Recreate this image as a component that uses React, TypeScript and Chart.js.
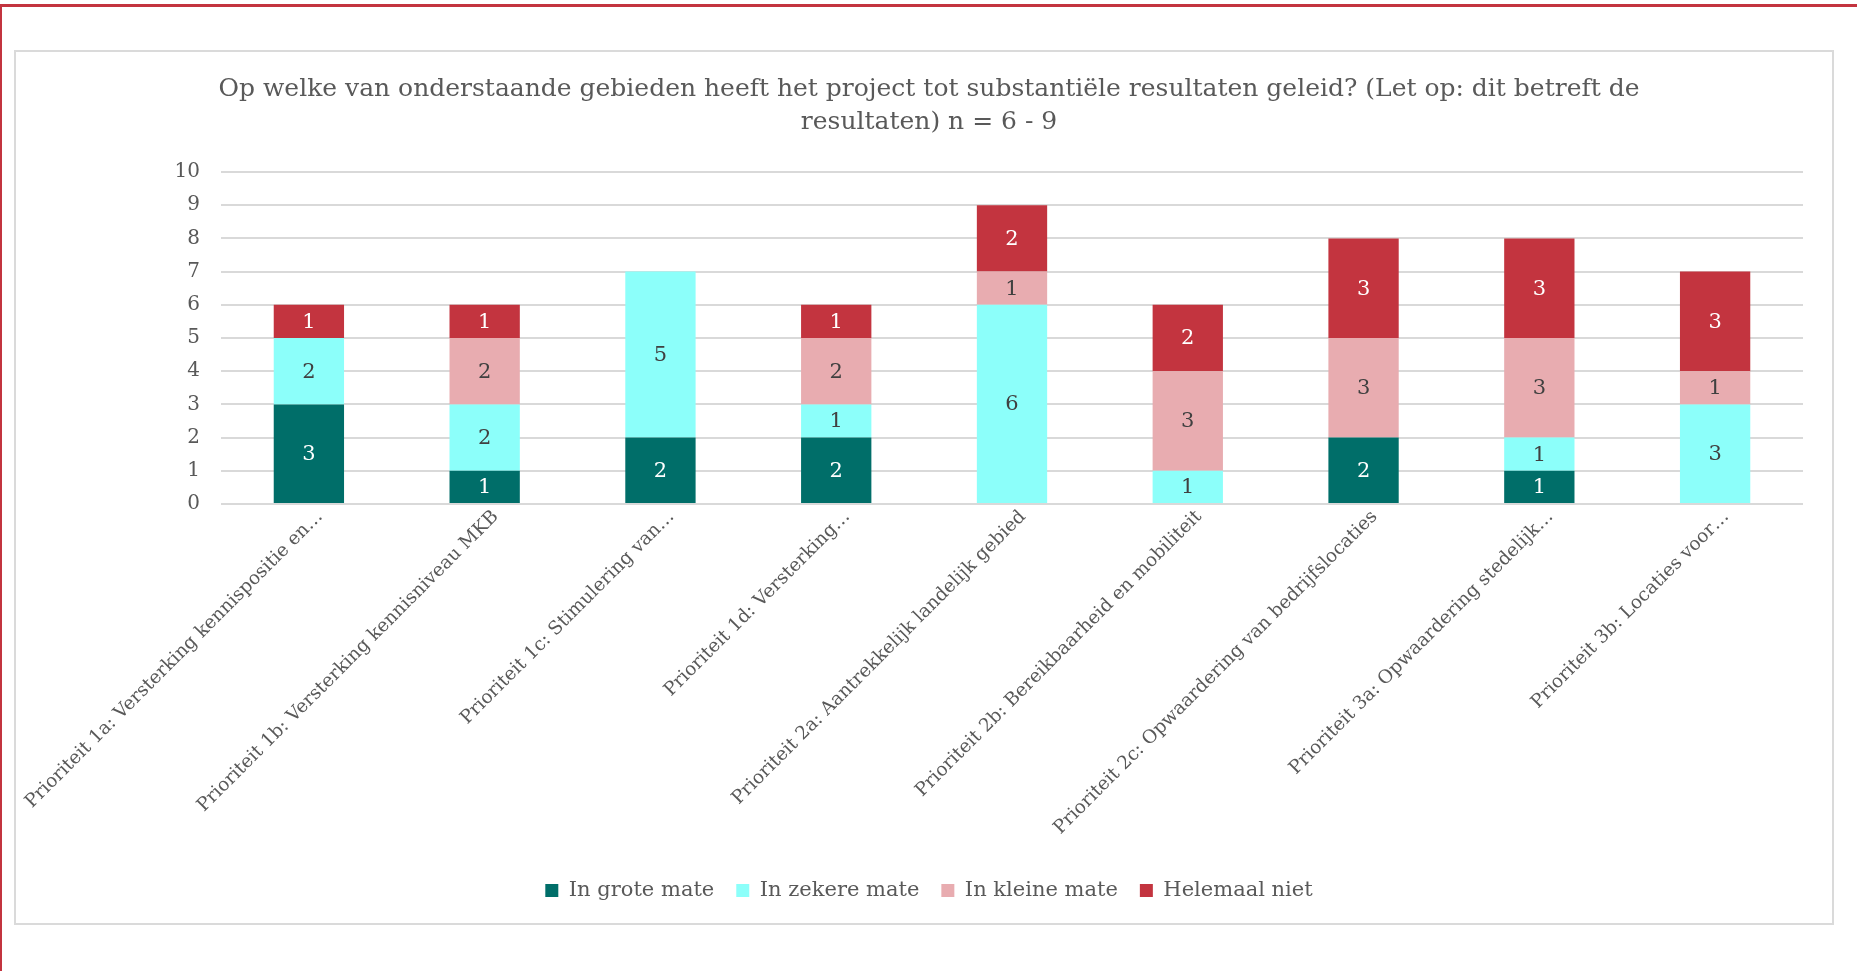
import React, { useEffect, useRef } from "react";
import { Chart, registerables } from "chart.js";

Chart.register(...registerables);

const categories: string[] = [
  "Prioriteit 1a: Versterking kennispositie en…",
  "Prioriteit 1b: Versterking kennisniveau MKB",
  "Prioriteit 1c: Stimulering van…",
  "Prioriteit 1d: Versterking…",
  "Prioriteit 2a: Aantrekkelijk landelijk gebied",
  "Prioriteit 2b: Bereikbaarheid en mobiliteit",
  "Prioriteit 2c: Opwaardering van bedrijfslocaties",
  "Prioriteit 3a: Opwaardering stedelijk…",
  "Prioriteit 3b: Locaties voor…",
];

const inGroteMate: number[] = [3, 1, 2, 2, 0, 0, 2, 1, 0];
const inZekereMate: number[] = [2, 2, 5, 1, 6, 1, 0, 1, 3];
const inKleineMate: number[] = [0, 2, 0, 2, 1, 3, 3, 3, 1];
const helemaalNiet: number[] = [1, 1, 0, 1, 2, 2, 3, 3, 3];

const seriesNames: string[] = ["In grote mate", "In zekere mate", "In kleine mate", "Helemaal niet"];
const titleLines: string[] = [
  "Op welke van onderstaande gebieden heeft het project tot substantiële resultaten geleid? (Let op: dit betreft de",
  "resultaten) n = 6 - 9",
];
const yTicks: number[] = [0, 1, 2, 3, 4, 5, 6, 7, 8, 9, 10];

const FONT = "'DejaVu Serif', 'Liberation Serif', serif";
const TEXT = "#595959";
const colors = ["#006E69", "#8CFFFA", "#E8ACB0", "#C3343F"];
const labelColors = ["#FFFFFF", "#404040", "#404040", "#FFFFFF"];

const valueLabels = {
  id: "valueLabels",
  afterDatasetsDraw(chart: any) {
    const ctx = chart.ctx;
    ctx.save();
    ctx.font = `21px ${FONT}`;
    ctx.textAlign = "center";
    ctx.textBaseline = "middle";
    chart.data.datasets.forEach((ds: any, i: number) => {
      const meta = chart.getDatasetMeta(i);
      meta.data.forEach((bar: any, j: number) => {
        const v = ds.data[j];
        if (!v) return;
        const p = bar.getProps(["x", "y", "base"], true);
        ctx.fillStyle = labelColors[i];
        ctx.fillText(String(v), p.x, (p.y + p.base) / 2 + 1);
      });
    });
    ctx.restore();
  },
};

export default function App() {
  const ref = useRef<HTMLCanvasElement>(null);
  useEffect(() => {
    if (!ref.current) return;
    const series = [inGroteMate, inZekereMate, inKleineMate, helemaalNiet];
    const chart = new Chart(ref.current, {
      type: "bar",
      data: {
        labels: categories,
        datasets: series.map((d, i) => ({
          label: seriesNames[i],
          data: d,
          backgroundColor: colors[i],
          borderWidth: 0,
          categoryPercentage: 0.8,
          barPercentage: 0.5,
        })),
      },
      options: {
        responsive: false,
        animation: false,
        layout: { padding: { left: 10, right: 0, top: 0, bottom: 12 } },
        plugins: {
          tooltip: { enabled: false },
          title: {
            display: true,
            text: titleLines,
            color: TEXT,
            font: { family: FONT, size: 25, weight: "normal", lineHeight: 1.32 },
            padding: { top: 21, bottom: 33 },
          },
          legend: {
            position: "bottom",
            labels: {
              color: TEXT,
              font: { family: FONT, size: 21 },
              boxWidth: 13,
              boxHeight: 13,
              padding: 22,
            },
          },
        },
        scales: {
          x: {
            stacked: true,
            grid: { display: false },
            border: { display: false },
            ticks: {
              color: TEXT,
              font: { family: FONT, size: 18.5 },
              minRotation: 45,
              maxRotation: 45,
              autoSkip: false,
              padding: -6,
              labelOffset: 11,
            },
            afterFit: (s: any) => {
              s.height = 354;
              s.paddingLeft = 0;
              s.paddingRight = 0;
            },
          },
          y: {
            stacked: true,
            min: 0,
            max: 10,
            afterBuildTicks: (s: any) => {
              s.ticks = yTicks.map((v) => ({ value: v }));
            },
            grid: { color: "#D9D9D9", lineWidth: 2, drawTicks: false },
            border: { display: false },
            ticks: {
              color: TEXT,
              font: { family: FONT, size: 20 },
              padding: 21,
            },
            afterFit: (s: any) => {
              s.width = 195;
            },
          },
          yRight: {
            position: "right",
            display: true,
            grid: { display: false, drawTicks: false },
            border: { display: false },
            ticks: { display: false },
            afterFit: (s: any) => {
              s.width = 29;
            },
          },
        },
      },
      plugins: [valueLabels],
    });
    return () => chart.destroy();
  }, []);

  return (
    <div style={{ position: "fixed", left: 0, top: 0, width: 1857, height: 971, background: "#fff", overflow: "hidden" }}>
      <div style={{ position: "absolute", left: 0, top: 4, width: 1857, height: 3, background: "#C3343F" }} />
      <div style={{ position: "absolute", left: 0, top: 4, width: 2, height: 967, background: "#C3343F" }} />
      <div
        style={{
          position: "absolute",
          left: 14,
          top: 50,
          width: 1816,
          height: 871,
          border: "2px solid #DADADA",
          background: "#fff",
        }}
      >
        <canvas ref={ref} width={1816} height={871} style={{ width: 1816, height: 871, display: "block" }} />
      </div>
    </div>
  );
}
